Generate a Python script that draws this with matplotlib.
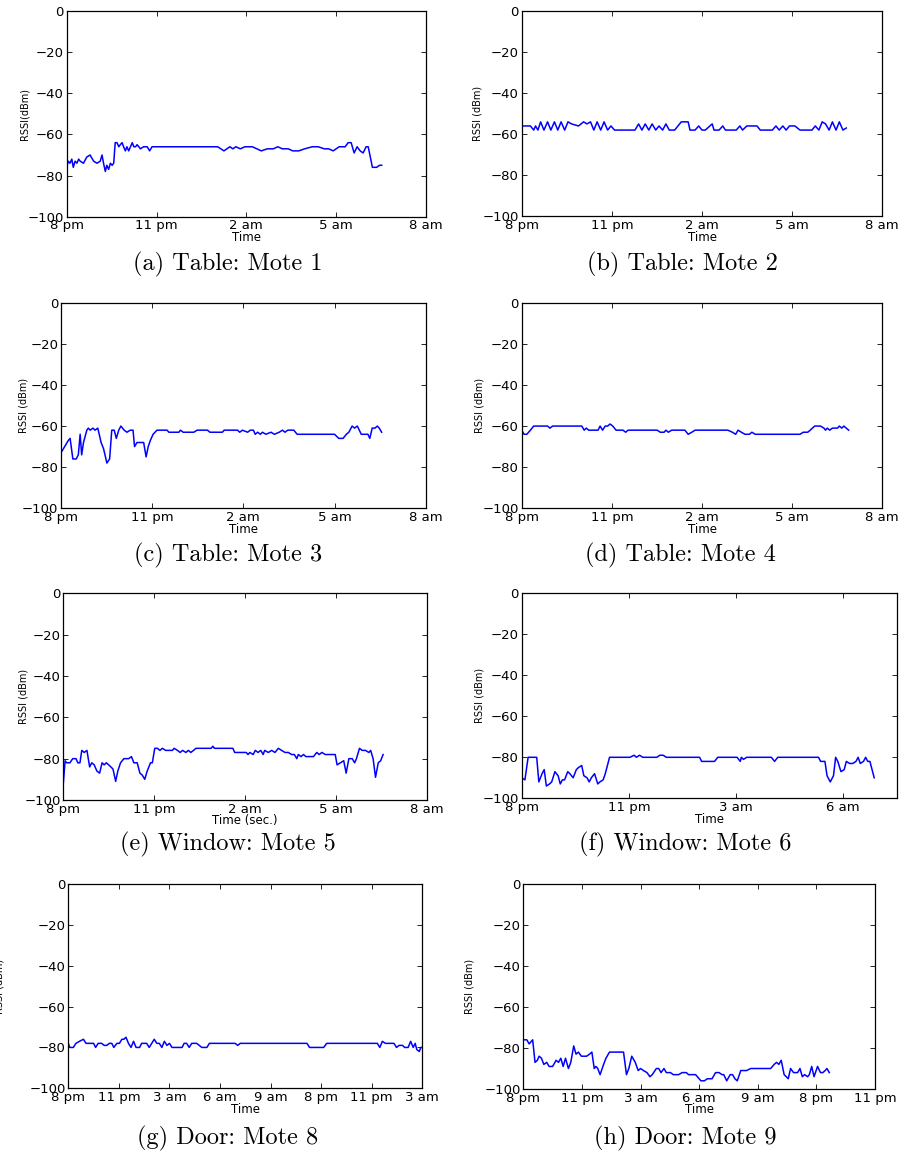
import matplotlib
matplotlib.use('Agg')
import matplotlib.pyplot as plt

# x values are hours after 8 pm for motes 1-5, tick slots for motes 6, 8, 9
mote1_t = [0, 0.05, 0.11, 0.17, 0.22, 0.28, 0.34, 0.4, 0.45, 0.56, 0.67, 0.78, 0.9, 1.01, 1.12,
           1.18, 1.23, 1.29, 1.34, 1.4, 1.46, 1.52, 1.57, 1.62, 1.68, 1.74, 1.79, 1.85, 1.9, 1.96,
           2.01, 2.07, 2.13, 2.19, 2.24, 2.3, 2.35, 2.41, 2.46, 2.57, 2.69, 2.77, 2.85, 5.04, 5.15,
           5.25, 5.35, 5.45, 5.55, 5.65, 5.8, 5.95, 6.2, 6.35, 6.5, 6.7, 6.9, 7.05, 7.2, 7.4, 7.55,
           7.75, 7.95, 8.2, 8.4, 8.6, 8.75, 8.9, 9.0, 9.1, 9.3, 9.4, 9.5, 9.6, 9.7, 9.8, 9.9, 10.0,
           10.07, 10.21, 10.35, 10.45, 10.52]
mote1_v = [-76, -73, -74, -72, -76, -73, -74, -72, -73, -74, -71, -70, -73, -74, -73,
           -70, -74, -78, -75, -77, -74, -75, -74, -64, -64, -66, -65, -64, -66, -68,
           -66, -68, -66, -64, -66, -66, -65, -66, -67, -66, -66, -68, -66, -66, -67,
           -68, -67, -66, -67, -66, -67, -66, -66, -67, -68, -67, -67, -66, -67, -67, -68,
           -68, -67, -66, -66, -67, -67, -68, -67, -66, -66, -64, -64, -69, -66, -68, -69, -66,
           -66, -76, -76, -75, -75]

mote2_t = [0, 0.29, 0.4, 0.46, 0.54, 0.63, 0.74, 0.86, 0.97, 1.09, 1.2, 1.31, 1.43, 1.54, 1.66,
           1.89, 2.06, 2.17, 2.29, 2.4, 2.51, 2.63, 2.74, 2.86, 2.97, 3.09, 3.49, 3.77, 3.89, 4.0,
           4.11, 4.23, 4.34, 4.46, 4.57, 4.69, 4.8, 4.91, 5.09, 5.2, 5.31, 5.54, 5.6, 5.77, 5.89,
           6.0, 6.11, 6.34, 6.4, 6.57, 6.69, 6.78, 7.14, 7.26, 7.35, 7.49, 7.83, 7.94, 8.34, 8.46,
           8.57, 8.69, 8.8, 8.91, 9.09, 9.26, 9.66, 9.77, 9.89, 10.0, 10.11, 10.23, 10.34, 10.46,
           10.57, 10.69, 10.8]
mote2_v = [-56, -56, -58, -56, -58, -54, -58, -54, -58, -54, -58, -54, -58, -54, -55,
           -56, -54, -55, -54, -58, -54, -58, -54, -58, -56, -58, -58, -58, -55, -58,
           -55, -58, -55, -58, -56, -58, -55, -58, -58, -56, -54, -54, -58, -58, -56,
           -58, -58, -55, -58, -58, -56, -58, -58, -56, -58, -56, -56, -58, -58, -56,
           -58, -56, -58, -56, -56, -58, -58, -56, -58, -54, -55, -58, -54, -58,
           -54, -58, -57]

mote3_t = [0, 0.24, 0.3, 0.39, 0.5, 0.57, 0.63, 0.68, 0.74, 0.85, 0.9, 0.96, 1.05, 1.12, 1.21,
           1.32, 1.4, 1.51, 1.6, 1.67, 1.75, 1.82, 1.9, 1.97, 2.08, 2.17, 2.28, 2.37, 2.42, 2.5,
           2.72, 2.8, 2.87, 2.94, 3.03, 3.16, 3.49, 3.55, 3.88, 3.93, 4.02, 4.37, 4.48, 4.82, 4.9,
           5.31, 5.37, 5.81, 5.88, 5.97, 6.14, 6.23, 6.33, 6.39, 6.47, 6.56, 6.63, 6.74, 6.91, 7.02,
           7.18, 7.29, 7.37, 7.46, 7.66, 7.77, 9.0, 9.14, 9.28, 9.39, 9.47, 9.58, 9.66, 9.75, 9.88,
           10.1, 10.16, 10.24, 10.33, 10.41, 10.47, 10.55]
mote3_v = [-73, -67, -66, -76, -76, -74, -64, -74, -68, -62, -61, -62, -61, -62, -61,
           -68, -71, -78, -76, -62, -62, -66, -62, -60, -62, -63, -62, -62, -70, -68,
           -68, -75, -70, -67, -64, -62, -62, -63, -63, -62, -63, -63, -62, -62, -63,
           -63, -62, -62, -63, -62, -63, -62, -62, -64, -63, -64, -63, -64, -63, -64,
           -63, -62, -63, -62, -62, -64, -64, -66, -66, -64, -63, -60, -61, -60, -64,
           -64, -66, -61, -61, -60, -61, -63]

mote4_t = [0, 0.08, 0.17, 0.29, 0.4, 0.86, 0.94, 1.03, 2.0, 2.08, 2.15, 2.23, 2.54, 2.61, 2.69,
           2.78, 2.86, 2.94, 3.03, 3.14, 3.37, 3.46, 3.54, 4.51, 4.61, 4.74, 4.8, 4.88, 4.99, 5.43,
           5.54, 5.66, 5.77, 6.86, 7.01, 7.12, 7.2, 7.31, 7.43, 7.58, 7.66, 7.77, 9.26, 9.37, 9.52,
           9.6, 9.75, 9.94, 10.06, 10.11, 10.17, 10.25, 10.34, 10.51, 10.57, 10.65, 10.72, 10.8, 10.88]
mote4_v = [-62, -64, -64, -62, -60, -60, -61, -60, -60, -62, -61, -62, -62, -60, -62,
           -60, -60, -59, -60, -62, -62, -63, -62, -62, -63, -63, -62, -63, -62, -62,
           -64, -63, -62, -62, -63, -64, -62, -63, -64, -64, -63, -64, -64, -63, -63,
           -62, -60, -60, -61, -62, -61, -62, -61, -61, -60, -61, -60, -61, -62]

mote5_t = [0, 0.06, 0.11, 0.22, 0.31, 0.42, 0.48, 0.55, 0.61, 0.69, 0.78, 0.87, 0.94, 1.02, 1.11,
           1.2, 1.28, 1.35, 1.42, 1.5, 1.57, 1.64, 1.73, 1.8, 1.89, 2.0, 2.16, 2.25, 2.33, 2.44,
           2.53, 2.61, 2.69, 2.77, 2.88, 2.94, 3.02, 3.11, 3.19, 3.27, 3.38, 3.6, 3.66, 3.77, 3.86,
           3.94, 4.05, 4.13, 4.21, 4.3, 4.38, 4.55, 4.88, 4.94, 4.99, 5.6, 5.66, 6.04, 6.1, 6.16,
           6.27, 6.34, 6.43, 6.52, 6.6, 6.65, 6.77, 6.88, 6.99, 7.1, 7.21, 7.32, 7.43, 7.54, 7.63,
           7.71, 7.76, 7.85, 7.93, 8.01, 8.1, 8.26, 8.37, 8.45, 8.54, 8.65, 8.98, 9.04, 9.15, 9.26,
           9.34, 9.43, 9.54, 9.62, 9.68, 9.78, 9.87, 9.98, 10.09, 10.15, 10.23, 10.31, 10.4, 10.48,
           10.56]
mote5_v = [-92, -81, -82, -82, -80, -80, -82, -82, -76, -77, -76, -84, -82, -83, -86,
           -87, -82, -83, -82, -83, -84, -85, -91, -86, -82, -80, -80, -79, -82, -82,
           -87, -88, -90, -86, -82, -82, -75, -75, -76, -75, -76, -76, -75, -76, -77,
           -76, -77, -76, -77, -76, -75, -75, -75, -74, -75, -75, -77, -77, -78, -77,
           -78, -76, -77, -76, -78, -76, -77, -76, -77, -75, -76, -77, -77, -78, -78,
           -80, -78, -79, -78, -79, -79, -79, -77, -78, -77, -78, -78, -83, -82, -81,
           -87, -80, -80, -82, -80, -75, -76, -76, -77, -76, -80, -89, -82, -81,
           -78]

mote6_t = [0, 0.03, 0.06, 0.14, 0.16, 0.19, 0.21, 0.23, 0.26, 0.28, 0.31, 0.34, 0.36, 0.38, 0.4,
           0.43, 0.45, 0.48, 0.51, 0.53, 0.56, 0.58, 0.61, 0.63, 0.65, 0.68, 0.71, 0.73, 0.76, 0.78,
           0.82, 1.01, 1.05, 1.07, 1.1, 1.13, 1.26, 1.29, 1.32, 1.35, 1.66, 1.68, 1.8, 1.83, 2.01,
           2.04, 2.05, 2.07, 2.1, 2.33, 2.36, 2.39, 2.77, 2.79, 2.83, 2.85, 2.88, 2.91, 2.93, 2.95,
           2.98, 3.01, 3.03, 3.06, 3.09, 3.12, 3.14, 3.16, 3.19, 3.21, 3.23, 3.25, 3.29]
mote6_v = [-90, -91, -80, -80, -92, -88, -86, -94, -93, -92, -87, -89, -93, -91, -91,
           -87, -88, -90, -86, -85, -84, -89, -90, -92, -90, -88, -93, -92, -91, -88,
           -80, -80, -79, -80, -79, -80, -80, -79, -79, -80, -80, -82, -82, -80, -80,
           -82, -80, -81, -80, -80, -82, -80, -80, -82, -82, -89, -92, -89, -80, -82,
           -87, -86, -82, -83, -83, -82, -80, -83, -82, -80, -82, -82, -90]

mote8_t = [0, 0.03, 0.1, 0.15, 0.22, 0.3, 0.35, 0.5, 0.54, 0.59, 0.66, 0.71, 0.76, 0.81, 0.86,
           0.9, 0.96, 1.01, 1.06, 1.1, 1.14, 1.19, 1.24, 1.29, 1.34, 1.41, 1.45, 1.55, 1.6, 1.65,
           1.7, 1.75, 1.8, 1.85, 1.9, 1.95, 2.0, 2.05, 2.25, 2.29, 2.34, 2.39, 2.44, 2.54, 2.64,
           2.74, 2.79, 3.3, 3.35, 3.4, 4.72, 4.77, 5.05, 5.11, 6.11, 6.16, 6.21, 6.27, 6.44, 6.49,
           6.54, 6.61, 6.65, 6.72, 6.77, 6.82, 6.86, 6.89, 6.94, 6.97, 7.0]
mote8_v = [-78, -80, -80, -78, -77, -76, -78, -78, -80, -78, -78, -79, -79, -78, -78,
           -80, -78, -78, -76, -76, -75, -78, -80, -77, -80, -80, -78, -78, -80, -78,
           -76, -78, -78, -80, -77, -79, -78, -80, -80, -78, -78, -80, -78, -78, -80,
           -80, -78, -78, -79, -78, -78, -80, -80, -78, -78, -80, -77, -78, -78, -80,
           -79, -79, -80, -80, -77, -80, -78, -81, -82, -80, -80]

mote9_t = [0, 0.06, 0.1, 0.13, 0.16, 0.2, 0.24, 0.27, 0.31, 0.35, 0.4, 0.44, 0.5, 0.56, 0.6,
           0.64, 0.68, 0.72, 0.77, 0.81, 0.86, 0.9, 0.94, 0.99, 1.08, 1.13, 1.17, 1.21, 1.24, 1.27,
           1.31, 1.37, 1.41, 1.47, 1.71, 1.76, 1.8, 1.85, 1.91, 1.96, 2.0, 2.05, 2.11, 2.16, 2.2,
           2.27, 2.31, 2.35, 2.4, 2.44, 2.51, 2.56, 2.65, 2.71, 2.78, 2.82, 2.94, 3.0, 3.03, 3.09,
           3.14, 3.22, 3.28, 3.34, 3.39, 3.42, 3.47, 3.53, 3.57, 3.61, 3.65, 3.71, 3.81, 3.88, 4.22,
           4.28, 4.32, 4.36, 4.4, 4.45, 4.52, 4.56, 4.61, 4.68, 4.72, 4.76, 4.8, 4.85, 4.88, 4.92,
           4.96, 5.02, 5.07, 5.11, 5.15, 5.18, 5.22]
mote9_v = [-76, -76, -78, -77, -76, -87, -86, -84, -85, -88, -87, -89, -89, -86, -87,
           -85, -89, -85, -90, -87, -79, -83, -82, -84, -84, -83, -82, -90, -89, -90,
           -93, -88, -85, -82, -82, -93, -90, -84, -87, -91, -90, -91, -92, -94, -93,
           -90, -90, -92, -90, -92, -92, -93, -93, -92, -92, -93, -93, -95, -96, -96,
           -95, -95, -92, -92, -93, -93, -96, -93, -93, -95, -96, -91, -91, -90, -90,
           -88, -87, -88, -86, -93, -95, -90, -92, -92, -90, -94, -93, -94, -93, -89,
           -94, -89, -92, -92, -91, -90, -92]

ticks_night = ['8 pm', '11 pm', '2 am', '5 am', '8 am']
ticks_mote6 = ['8 pm', '11 pm', '3 am', '6 am']
ticks_mote8 = ['8 pm', '11 pm', '3 am', '6 am', '9 am', '8 pm', '11 pm', '3 am']
ticks_mote9 = ['8 pm', '11 pm', '3 am', '6 am', '9 am', '8 pm', '11 pm']

captions = ['(a) Table: Mote 1', '(b) Table: Mote 2', '(c) Table: Mote 3', '(d) Table: Mote 4',
            '(e) Window: Mote 5', '(f) Window: Mote 6', '(g) Door: Mote 8', '(h) Door: Mote 9']
ylabels = ['RSSI(dBm)', 'RSSI (dBm)', 'RSSI (dBm)', 'RSSI (dBm)',
           'RSSI (dBm)', 'RSSI (dBm)', 'RSSI (dBm)', 'RSSI (dBm)']
xlabels = ['Time', 'Time', 'Time', 'Time', 'Time (sec.)', 'Time', 'Time', 'Time']

W, H = 901, 1156
fig = plt.figure(figsize=(W / 100, H / 100), dpi=100)

# panel boxes in pixels: left, right, top, bottom
boxes = [(66.7, 426, 11, 216.7), (521.7, 882.3, 11, 216.3),
         (61, 425.7, 302.7, 508.3), (521.7, 882.3, 302.7, 508.3),
         (63.3, 426.7, 593.3, 800), (521.7, 896.7, 593.3, 798.3),
         (68.3, 422.3, 884, 1088.3), (523.3, 875, 884, 1089)]
ylab_x = [25, 478, 24, 479, 23, 479, 0, 469]
cap_pos = [(228, 264), (682, 264), (228, 555), (680, 555),
           (228, 844), (685, 844), (228, 1138), (685, 1138)]

series = [(mote1_t, mote1_v), (mote2_t, mote2_v), (mote3_t, mote3_v), (mote4_t, mote4_v),
          (mote5_t, mote5_v), (mote6_t, mote6_v), (mote8_t, mote8_v), (mote9_t, mote9_v)]
xticks = [([0, 3, 6, 9, 12], ticks_night)] * 5 + [
    (list(range(len(ticks_mote6))), ticks_mote6),
    (list(range(len(ticks_mote8))), ticks_mote8),
    (list(range(len(ticks_mote9))), ticks_mote9)]
xlims = [(0, 12)] * 5 + [(0, 3.5), (0, 7), (0, 6)]

for i in range(8):
    l, r, t, b = boxes[i]
    ax = fig.add_axes([l / W, 1 - b / H, (r - l) / W, (b - t) / H])
    x, y = series[i]
    ax.plot(x, y, color='#0000ff', lw=1.1)
    ax.set_xlim(*xlims[i])
    ax.set_ylim(-100, 0)
    ax.set_yticks([-100, -80, -60, -40, -20, 0])
    ax.set_xticks(xticks[i][0])
    ax.set_xticklabels(xticks[i][1])
    ax.tick_params(direction='in', top=True, right=True, length=3.5, width=0.6,
                   labelsize=9.5, pad=2)
    for s in ax.spines.values():
        s.set_linewidth(0.9)
    ax.set_xlabel(xlabels[i], fontsize=8.5, labelpad=-1)
    fig.text(ylab_x[i] / W, 1 - (t + b) / 2 / H, ylabels[i], rotation=90,
             ha='center', va='center', fontsize=7)
    cx, cy = cap_pos[i]
    fig.text(cx / W, 1 - cy / H, captions[i], ha='center', va='center',
             fontsize=17.5, family='cmr10')

fig.savefig('out.png', dpi=100)
